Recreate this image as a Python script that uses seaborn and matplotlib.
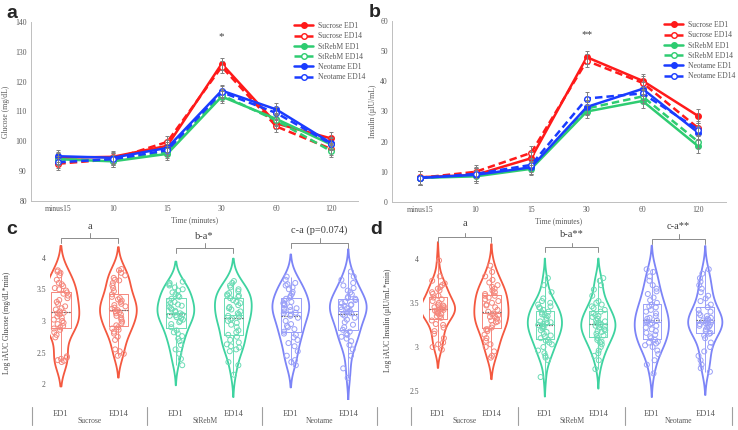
import numpy as np
import pandas as pd
import matplotlib
matplotlib.use("Agg")
import matplotlib.pyplot as plt
import seaborn as sns
from matplotlib.transforms import blended_transform_factory

# ---------------- data ----------------
times = ["minus15", "10", "15", "30", "60", "120"]
series_names = ["Sucrose ED1", "Sucrose ED14", "StRebM ED1", "StRebM ED14",
                "Neotame ED1", "Neotame ED14"]

glu_sucrose_ed1 = [94.5, 94.8, 98.5, 126.0, 106.0, 101.0]
glu_sucrose_ed14 = [92.5, 94.0, 99.8, 125.0, 105.0, 97.5]
glu_strebm_ed1 = [94.0, 93.3, 95.8, 115.0, 107.5, 99.0]
glu_strebm_ed14 = [94.0, 93.5, 96.5, 115.5, 107.0, 96.8]
glu_neotame_ed1 = [95.0, 94.5, 97.8, 117.0, 110.7, 99.5]
glu_neotame_ed14 = [93.0, 94.0, 97.0, 116.5, 109.5, 99.2]
glu_sem = [2.0, 2.0, 2.0, 2.0, 2.0, 2.0]

ins_sucrose_ed1 = [8.2, 9.0, 14.5, 48.0, 40.2, 28.5]
ins_sucrose_ed14 = [8.0, 10.0, 16.3, 46.8, 39.5, 24.5]
ins_strebm_ed1 = [8.0, 8.5, 11.0, 30.0, 33.5, 18.5]
ins_strebm_ed14 = [8.0, 9.0, 11.5, 31.0, 35.0, 20.0]
ins_neotame_ed1 = [8.0, 9.0, 11.5, 31.5, 37.5, 23.0]
ins_neotame_ed14 = [8.0, 9.3, 12.3, 34.3, 36.0, 24.0]
ins_sem = [2.2, 2.2, 2.2, 2.2, 2.2, 2.2]

groups = ["Sucrose", "StRebM", "Neotame"]
days = ["ED1", "ED14"]
cats = [g + " " + d for g in groups for d in days]

auc_glu_sucrose_ed1 = [2.35, 2.37, 2.38, 2.40, 2.42, 2.44, 2.74, 2.78, 2.82, 2.86, 2.88, 2.90,
                       2.92, 2.95, 2.97, 3.00, 3.02, 3.05, 3.07, 3.10, 3.12, 3.13, 3.15, 3.18,
                       3.20, 3.23, 3.27, 3.30, 3.33, 3.36, 3.40, 3.43, 3.45, 3.48, 3.50, 3.52,
                       3.55, 3.58, 3.60, 3.65, 3.72, 3.76, 3.78, 3.80]
auc_glu_sucrose_ed14 = [2.45, 2.48, 2.52, 2.55, 2.70, 2.75, 2.80, 2.83, 2.86, 2.88, 2.90, 2.93,
                        2.96, 2.99, 3.02, 3.05, 3.08, 3.10, 3.12, 3.14, 3.15, 3.17, 3.19, 3.21,
                        3.23, 3.25, 3.27, 3.30, 3.32, 3.34, 3.36, 3.38, 3.42, 3.47, 3.52, 3.56,
                        3.60, 3.64, 3.68, 3.72, 3.76, 3.80, 3.82, 3.65]
auc_glu_strebm_ed1 = [2.30, 2.40, 2.48, 2.55, 2.62, 2.68, 2.72, 2.76, 2.80, 2.82, 2.85, 2.90,
                      2.95, 2.98, 3.00, 3.02, 3.04, 3.06, 3.08, 3.09, 3.10, 3.12, 3.14, 3.16,
                      3.18, 3.20, 3.22, 3.24, 3.26, 3.28, 3.30, 3.32, 3.35, 3.38, 3.40, 3.42,
                      3.45, 3.48, 3.50, 3.53, 3.56, 3.58, 3.60, 3.62]
auc_glu_strebm_ed14 = [2.15, 2.30, 2.35, 2.52, 2.55, 2.58, 2.60, 2.63, 2.66, 2.70, 2.75, 2.78,
                       2.82, 2.85, 2.90, 2.94, 2.97, 3.00, 3.02, 3.04, 3.06, 3.08, 3.10, 3.12,
                       3.15, 3.18, 3.20, 3.22, 3.25, 3.28, 3.30, 3.33, 3.36, 3.38, 3.40, 3.42,
                       3.44, 3.47, 3.50, 3.53, 3.56, 3.60, 3.63, 3.40]
auc_glu_neotame_ed1 = [2.30, 2.35, 2.38, 2.45, 2.52, 2.60, 2.65, 2.70, 2.74, 2.78, 2.80, 2.83,
                       2.87, 2.90, 2.95, 3.00, 3.05, 3.10, 3.13, 3.15, 3.17, 3.19, 3.20, 3.22,
                       3.25, 3.27, 3.30, 3.32, 3.35, 3.37, 3.40, 3.43, 3.46, 3.50, 3.53, 3.56,
                       3.58, 3.60, 3.65, 3.70, 2.92, 3.08, 3.28, 3.12]
auc_glu_neotame_ed14 = [2.10, 2.25, 2.45, 2.55, 2.62, 2.68, 2.72, 2.75, 2.78, 2.80, 2.83, 2.86,
                        2.90, 2.94, 2.98, 3.02, 3.05, 3.08, 3.10, 3.12, 3.14, 3.16, 3.18, 3.20,
                        3.22, 3.24, 3.26, 3.28, 3.30, 3.33, 3.35, 3.38, 3.42, 3.45, 3.48, 3.52,
                        3.56, 3.60, 3.65, 3.70, 3.78, 3.15, 3.25, 3.36]

auc_ins_sucrose_ed1 = [2.97, 3.00, 3.03, 3.05, 3.10, 3.15, 3.18, 3.22, 3.26, 3.30, 3.33, 3.35,
                       3.37, 3.38, 3.39, 3.40, 3.41, 3.42, 3.43, 3.43, 3.44, 3.45, 3.46, 3.47,
                       3.48, 3.50, 3.52, 3.54, 3.56, 3.58, 3.60, 3.62, 3.64, 3.66, 3.68, 3.70,
                       3.72, 3.75, 3.80, 3.98, 3.35, 3.42, 3.46, 3.25]
auc_ins_sucrose_ed14 = [2.88, 2.90, 2.95, 3.00, 3.03, 3.07, 3.10, 3.14, 3.18, 3.20, 3.22, 3.25,
                        3.28, 3.30, 3.32, 3.34, 3.35, 3.37, 3.38, 3.40, 3.42, 3.45, 3.48, 3.50,
                        3.52, 3.54, 3.56, 3.58, 3.60, 3.62, 3.64, 3.66, 3.68, 3.70, 3.73, 3.76,
                        3.80, 3.85, 3.92, 3.36, 3.29, 3.47, 3.58, 3.20]
auc_ins_strebm_ed1 = [2.66, 2.85, 2.88, 2.90, 2.93, 2.96, 3.00, 3.03, 3.05, 3.07, 3.10, 3.13,
                      3.15, 3.17, 3.19, 3.21, 3.23, 3.24, 3.25, 3.27, 3.29, 3.31, 3.33, 3.35,
                      3.37, 3.39, 3.40, 3.42, 3.44, 3.46, 3.48, 3.50, 3.52, 3.55, 3.62, 3.70,
                      3.78, 3.22, 3.28, 3.08, 3.36, 3.45, 3.26, 3.12]
auc_ins_strebm_ed14 = [2.75, 2.85, 2.90, 2.93, 2.96, 3.00, 3.03, 3.06, 3.08, 3.10, 3.13, 3.15,
                       3.17, 3.19, 3.20, 3.22, 3.24, 3.25, 3.26, 3.28, 3.30, 3.32, 3.34, 3.36,
                       3.38, 3.40, 3.42, 3.44, 3.46, 3.48, 3.50, 3.52, 3.58, 3.65, 3.70, 3.75,
                       3.78, 3.23, 3.27, 3.05, 3.18, 3.35, 3.12, 3.29]
auc_ins_neotame_ed1 = [2.70, 2.80, 2.85, 2.92, 2.96, 3.00, 3.02, 3.04, 3.06, 3.08, 3.10, 3.12,
                       3.14, 3.16, 3.18, 3.20, 3.22, 3.24, 3.26, 3.28, 3.29, 3.30, 3.32, 3.35,
                       3.38, 3.40, 3.42, 3.45, 3.48, 3.50, 3.53, 3.56, 3.60, 3.63, 3.66, 3.70,
                       3.75, 3.80, 3.85, 3.88, 3.27, 3.05, 3.33, 3.46]
auc_ins_neotame_ed14 = [2.72, 2.76, 2.80, 2.85, 2.90, 2.95, 3.00, 3.05, 3.10, 3.13, 3.16, 3.18,
                        3.20, 3.22, 3.24, 3.25, 3.26, 3.27, 3.28, 3.29, 3.30, 3.31, 3.33, 3.35,
                        3.38, 3.40, 3.42, 3.45, 3.48, 3.52, 3.55, 3.58, 3.62, 3.66, 3.70, 3.74,
                        3.78, 3.83, 3.88, 3.27, 3.23, 3.32, 3.15, 3.36]

glu_yticks = [80, 90, 100, 110, 120, 130, 140]
ins_yticks = [0, 10, 20, 30, 40, 50, 60]
auc_glu_yticks = [2, 2.5, 3, 3.5, 4]
auc_glu_yticklabels = ["2", "2.5", "3", "3.5", "4"]
auc_ins_yticks = [2.5, 3, 3.5, 4]
auc_ins_yticklabels = ["2.5", "3", "3.5", "4"]

# ---------------- style ----------------
sns.set_theme(style="white")
plt.rcParams["font.family"] = ["Liberation Serif", "DejaVu Sans"]
np.random.seed(3)

GRAY_TXT = "#595959"
line_colors = ["#FF1A1A", "#FF1A1A", "#2ECC71", "#2ECC71", "#1A3CFF", "#1A3CFF"]
vio_pal = dict(zip(cats, ["#F4583F", "#F4583F", "#3ED3A0", "#3ED3A0", "#7C84F7", "#7C84F7"]))
light_pal = dict(zip(cats, ["#F5877C", "#F5877C", "#6BDCB5", "#6BDCB5", "#9AA0F8", "#9AA0F8"]))

W, H = 738, 430
fig = plt.figure(figsize=(W / 100, H / 100), dpi=100)


def add_ax(l, t, r, b):
    return fig.add_axes([l / W, 1 - b / H, (r - l) / W, (b - t) / H])


ax_a = add_ax(31, 22, 358, 201)
ax_b = add_ax(392, 21, 726, 202)
ax_c = add_ax(50, 245, 377, 400)
ax_d = add_ax(423, 241, 732, 400)


def line_panel(ax, means, sem, ylim, yticks, ylabel, star, star_y, leg_anchor):
    x = np.arange(len(times))
    for name, m, c in zip(series_names, means, line_colors):
        ed14 = name.endswith("ED14")
        sns.lineplot(x=x, y=m, ax=ax, color=c, linewidth=1.8, marker="o", markersize=4.0,
                     markerfacecolor="white" if ed14 else c, markeredgecolor=c,
                     markeredgewidth=1.0, linestyle=(0, (3.0, 1.6)) if ed14 else "-",
                     label=name)
        ax.errorbar(x, m, yerr=sem, fmt="none", ecolor="#808080", elinewidth=0.7,
                    capsize=1.6, capthick=0.7, zorder=5)
    ax.set_xlim(-0.5, len(times) - 0.5)
    ax.set_ylim(*ylim)
    ax.set_xticks(x, times)
    ax.set_yticks(yticks)
    ax.tick_params(labelsize=5.5, colors=GRAY_TXT, length=0, pad=3)
    for s in ["top", "right"]:
        ax.spines[s].set_visible(False)
    for s in ["left", "bottom"]:
        ax.spines[s].set_color("#BFBFBF")
        ax.spines[s].set_linewidth(0.7)
    ax.set_ylabel(ylabel, fontsize=5.5, color=GRAY_TXT)
    ax.set_xlabel("Time (minutes)", fontsize=5.5, color=GRAY_TXT)
    ax.xaxis.set_label_coords(0.5, -0.085)
    ax.text(3, star_y, star, ha="center", va="center", fontsize=8, color="#404040")
    leg = ax.legend(loc="upper left", bbox_to_anchor=leg_anchor, frameon=False,
                    fontsize=5.5, handlelength=2.5, handletextpad=0.6, labelspacing=0.3,
                    borderpad=0, borderaxespad=0)
    for t in leg.get_texts():
        t.set_color(GRAY_TXT)


line_panel(ax_a, [glu_sucrose_ed1, glu_sucrose_ed14, glu_strebm_ed1, glu_strebm_ed14,
                  glu_neotame_ed1, glu_neotame_ed14], glu_sem, (80, 140), glu_yticks,
           "Glucose (mg/dL)", "*", 135.0, (0.805, 1.0))
ax_a.yaxis.set_label_coords(-0.064, 0.5)
line_panel(ax_b, [ins_sucrose_ed1, ins_sucrose_ed14, ins_strebm_ed1, ins_strebm_ed14,
                  ins_neotame_ed1, ins_neotame_ed14], ins_sem, (0, 60), ins_yticks,
           "Insulin (µIU/mL)", "**", 55.5, (0.815, 1.0))
ax_b.yaxis.set_label_coords(-0.045, 0.5)


def violin_panel(ax, values, ylim, yticks, yticklabels, ylabel, brackets):
    df = pd.DataFrame({
        "cat": np.repeat(cats, [len(v) for v in values]),
        "val": np.concatenate(values),
    })
    sns.violinplot(data=df, x="cat", y="val", hue="cat", order=cats, hue_order=cats,
                   palette=vio_pal, fill=False, inner=None, linewidth=1.3, width=0.64,
                   legend=False, ax=ax)
    sns.boxplot(data=df, x="cat", y="val", hue="cat", order=cats, hue_order=cats,
                palette=light_pal, fill=False, width=0.34, whis=(0, 100), showcaps=False,
                showfliers=False, linewidth=0.7, showmeans=True, meanline=True,
                meanprops=dict(color="#707070", linestyle=(0, (1.2, 0.8)), linewidth=0.9),
                legend=False, ax=ax)
    n0 = len(ax.collections)
    sns.stripplot(data=df, x="cat", y="val", hue="cat", order=cats, hue_order=cats,
                  palette=light_pal, jitter=0.13, size=3.6, legend=False, ax=ax)
    for coll in ax.collections[n0:]:
        fc = coll.get_facecolors()
        coll.set_edgecolors(fc)
        coll.set_facecolors("none")
        coll.set_linewidth(0.7)
    ax.set_ylim(*ylim)
    ax.set_xlim(ax.get_xlim()[0], 5.5)
    ax.set_yticks(yticks, yticklabels)
    ax.set_xticks(range(len(cats)), [d for g in groups for d in days])
    ax.tick_params(axis="y", labelsize=5.5, colors=GRAY_TXT, length=0, pad=3)
    ax.tick_params(axis="x", labelsize=6, colors=GRAY_TXT, length=0, pad=7)
    for s in ax.spines.values():
        s.set_visible(False)
    ax.set_xlabel("")
    ax.set_ylabel(ylabel, fontsize=5.5, color="#404040")
    # group labels & separators below axis
    bbox = ax.get_position()
    hpx = bbox.height * H
    ybot = bbox.y0 * H
    trans = blended_transform_factory(ax.transData, ax.transAxes)

    def ax_y(px_from_top):
        return ((H - px_from_top) - ybot) / hpx

    for i, g in enumerate(groups):
        ax.text(2 * i + 0.5, ax_y(421), g, transform=trans, ha="center", va="center",
                fontsize=5.5, color=GRAY_TXT)
    for xs in [-0.5, 1.5, 3.5, 5.5]:
        ax.plot([xs, xs], [ax_y(407), ax_y(425)], transform=trans, color="#A0A0A0",
                lw=0.8, clip_on=False)
    # brackets
    for (x0, x1, yb, drop, up, lab, ylab) in brackets:
        xm = (x0 + x1) / 2
        ax.plot([x0, x0, x1, x1], [yb - drop, yb, yb, yb - drop], color="#8C8C8C",
                lw=0.7, clip_on=False)
        ax.plot([xm, xm], [yb, yb + up], color="#8C8C8C", lw=0.7, clip_on=False)
        ax.text(xm, ylab, lab, ha="center", va="baseline", fontsize=7.5, color="#404040",
                clip_on=False)


violin_panel(ax_c,
             [auc_glu_sucrose_ed1, auc_glu_sucrose_ed14, auc_glu_strebm_ed1,
              auc_glu_strebm_ed14, auc_glu_neotame_ed1, auc_glu_neotame_ed14],
             (1.75, 4.2), auc_glu_yticks, auc_glu_yticklabels,
             "Log iAUC Glucose (mg/dL*min)",
             [(0, 1, 4.317, 0.08, 0.065, "a", 4.46),
              (2, 3, 4.159, 0.08, 0.065, "b-a*", 4.29),
              (4, 5, 4.238, 0.08, 0.065, "c-a (p=0.074)", 4.40)])
ax_c.set_xlim(-0.19, 5.5)
ax_c.yaxis.set_label_coords(-0.119, 0.5)

violin_panel(ax_d,
             [auc_ins_sucrose_ed1, auc_ins_sucrose_ed14, auc_ins_strebm_ed1,
              auc_ins_strebm_ed14, auc_ins_neotame_ed1, auc_ins_neotame_ed14],
             (2.4, 4.2), auc_ins_yticks, auc_ins_yticklabels,
             "Log iAUC Insulin (µIU/mL*min)",
             [(0, 1, 4.242, 0.057, 0.05, "a", 4.375),
              (2, 3, 4.128, 0.057, 0.05, "b-a**", 4.25),
              (4, 5, 4.227, 0.057, 0.05, "c-a**", 4.34)])
ax_d.set_xlim(-0.28, 5.5)
ax_d.yaxis.set_label_coords(-0.10, 0.5)

# panel letters
for lab, xp, yp in [("a", 6, 18), ("b", 369, 17), ("c", 6, 234), ("d", 370, 234)]:
    fig.text(xp / W, 1 - yp / H, lab, fontsize=14, fontweight="bold",
             family=["Liberation Sans", "DejaVu Sans"], va="baseline", ha="left")

fig.savefig("out.png", dpi=100)
